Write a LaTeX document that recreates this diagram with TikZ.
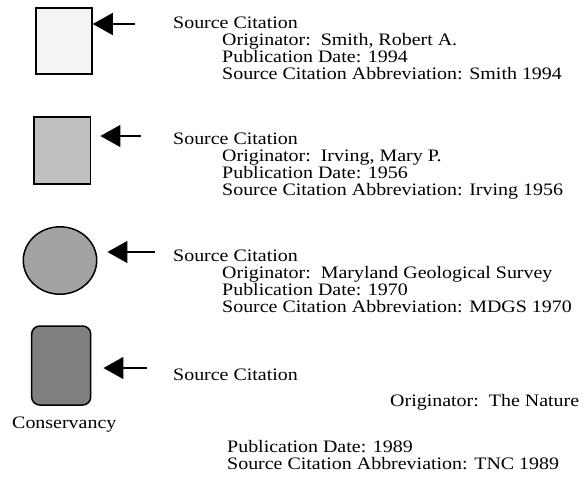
\documentclass[tikz,border=0pt]{standalone}
\usepackage{fontspec}
\setmainfont{Liberation Serif}[FakeStretch=1.14]
\usepackage{tikz}
\usetikzlibrary{positioning,arrows.meta,shapes.geometric}
\definecolor{shadeA}{RGB}{245,245,245}
\definecolor{shadeB}{RGB}{192,192,192}
\definecolor{shadeC}{RGB}{163,163,163}
\definecolor{shadeD}{RGB}{128,128,128}

\begin{document}
\begin{tikzpicture}[x=1pt, y=-1pt, >={Triangle[length=20pt,width=22pt]},
    font=\fontsize{17.5}{17}\selectfont,
    shp/.style={draw=black, line width=1.5pt, inner sep=0pt},
    txt/.style={anchor=base west, inner sep=0pt, align=left},
    arr/.style={->, line width=1.3pt}]

  \useasboundingbox (0,0) rectangle (585,483);

  % symbols
  \node[shp, rectangle, fill=shadeA, minimum width=56pt, minimum height=66pt] (sq1) at (64,41) {};
  \node[shp, rectangle, fill=shadeB, minimum width=56.7pt, minimum height=67pt] (sq2) at (62.3,150.5) {};
  \node[shp, ellipse, fill=shadeC, minimum width=73.4pt, minimum height=67.4pt] (circ) at (60,260.5) {};
  \node[shp, rectangle, rounded corners=8pt, fill=shadeD, minimum width=59pt, minimum height=79pt] (rr) at (61.2,365.5) {};

  % citations (multi-line nodes sit on their last baseline)
  \node[txt] (sc1) at (173,28.5) {Source Citation};
  \node[txt] (det1) at (222,79.5) {Originator:\ \ Smith, Robert A.\\Publication Date: 1994\\Source Citation Abbreviation: Smith 1994};

  \node[txt] (sc2) at (173,144.5) {Source Citation};
  \node[txt] (det2) at (222,195.5) {Originator:\ \ Irving, Mary P.\\Publication Date: 1956\\Source Citation Abbreviation: Irving 1956};

  \node[txt] (sc3) at (173,261.5) {Source Citation};
  \node[txt] (det3) at (222,312.5) {Originator:\ \ Maryland Geological Survey\\Publication Date: 1970\\Source Citation Abbreviation: MDGS 1970};

  \node[txt] (sc4) at (173,380) {Source Citation};
  \node[txt] (orig4) at (390,406.5) {Originator:\ \ The Nature};
  \node[txt] (cons) at (12,428.5) {Conservancy};
  \node[txt] (det4) at (227,469) {Publication Date: 1989\\Source Citation Abbreviation: TNC 1989};

  % pointers
  \coordinate (t1) at (135,24);
  \coordinate (t2) at (141,136);
  \coordinate (t3) at (155,252);
  \coordinate (t4) at (147,368);
  \draw[arr] (t1) -- (t1 -| sq1.east);
  \draw[arr, shorten >=9pt] (t2) -- (t2 -| sq2.east);
  \draw[arr, shorten >=10pt] (t3) -- (t3 -| circ.east);
  \draw[arr, shorten >=12pt] (t4) -- (t4 -| rr.east);
\end{tikzpicture}
\end{document}
